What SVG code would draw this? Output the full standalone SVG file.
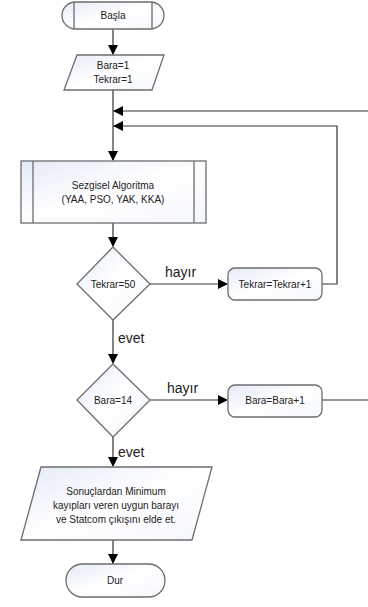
<svg xmlns="http://www.w3.org/2000/svg" width="368" height="607" viewBox="0 0 368 607">
<defs>
<linearGradient id="g" x1="0" y1="0" x2="1" y2="1">
<stop offset="0" stop-color="#e4ebf7"/>
<stop offset="0.5" stop-color="#ffffff"/>
<stop offset="1" stop-color="#f4f7fc"/>
</linearGradient>
<marker id="ah" markerWidth="10" markerHeight="10" refX="9" refY="5" orient="auto" markerUnits="userSpaceOnUse">
<path d="M0,0 L10,5 L0,10 Z" fill="#000"/>
</marker>
<style>
.s{fill:url(#g);stroke:#6d6d6d;stroke-width:1.3}
.in{fill:none;stroke:#6d6d6d;stroke-width:1.3}
.c{fill:none;stroke:#333;stroke-width:1.2}
.t{font-family:"Liberation Sans",Arial,sans-serif;font-size:10px;fill:#222;text-anchor:middle}
.l{font-family:"Liberation Sans",Arial,sans-serif;font-size:14px;fill:#222}
</style>
</defs>
<g id="connectors">
<path class="c" d="M113,29 V54" marker-end="url(#ah)"/>
<path class="c" d="M113,90 V160" marker-end="url(#ah)"/>
<path class="c" d="M370,111 H114" marker-end="url(#ah)"/>
<path class="c" d="M322,284 H337 V126 H114" marker-end="url(#ah)"/>
<path class="c" d="M113,223 V246" marker-end="url(#ah)"/>
<path class="c" d="M150,284 H227" marker-end="url(#ah)"/>
<path class="c" d="M113,320 V363" marker-end="url(#ah)"/>
<path class="c" d="M150,400 H227" marker-end="url(#ah)"/>
<path class="c" d="M322,400 H370"/>
<path class="c" d="M113,437 V466" marker-end="url(#ah)"/>
<path class="c" d="M113,540 V563" marker-end="url(#ah)"/>
<text class="l" x="165" y="277">hayır</text>
<text class="l" x="118" y="343">evet</text>
<text class="l" x="167" y="393">hayır</text>
<text class="l" x="118" y="457">evet</text>
</g>
<g id="basla">
<rect class="s" x="62" y="2" width="102" height="27" rx="13.5"/>
<path class="in" d="M74,2 V29 M152,2 V29"/>
<text class="t" x="113" y="19">Başla</text>
</g>
<g id="init">
<path class="s" d="M77,55 H164 L152,90 H64 Z"/>
<text class="t" x="113" y="69">Bara=1</text>
<text class="t" x="113" y="83">Tekrar=1</text>
</g>
<g id="sezgisel">
<rect class="s" x="21" y="161" width="185" height="62"/>
<path class="in" d="M33,161 V223 M194,161 V223"/>
<text class="t" x="113" y="189">Sezgisel Algoritma</text>
<text class="t" x="113" y="203">(YAA, PSO, YAK, KKA)</text>
</g>
<g id="tekrar50">
<path class="s" d="M113,247 L150,284 L113,320 L77,284 Z"/>
<text class="t" x="113" y="288">Tekrar=50</text>
</g>
<g id="tekrarinc">
<rect class="s" x="228" y="268" width="94" height="32" rx="7"/>
<text class="t" x="275" y="288">Tekrar=Tekrar+1</text>
</g>
<g id="bara14">
<path class="s" d="M113,364 L150,400 L113,437 L77,400 Z"/>
<text class="t" x="113" y="404">Bara=14</text>
</g>
<g id="baraInc">
<rect class="s" x="228" y="385" width="94" height="32" rx="7"/>
<text class="t" x="275" y="404">Bara=Bara+1</text>
</g>
<g id="sonuc">
<path class="s" d="M41,467 H212 L192,540 H21 Z"/>
<text class="t" x="116" y="495">Sonuçlardan Minimum</text>
<text class="t" x="116" y="509">kayıpları veren uygun barayı</text>
<text class="t" x="116" y="523">ve Statcom çıkışını elde et.</text>
</g>
<g id="dur">
<rect class="s" x="66" y="564" width="99" height="33" rx="16.5"/>
<text class="t" x="115" y="584">Dur</text>
</g>
</svg>
